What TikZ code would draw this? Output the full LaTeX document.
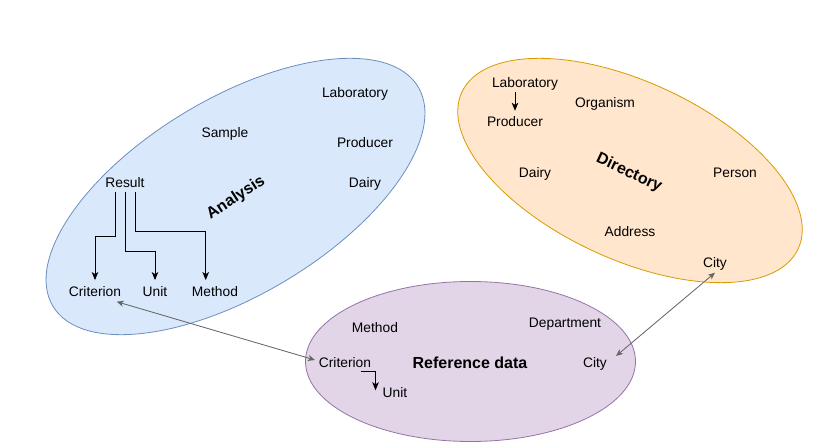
\documentclass[tikz,border=0pt]{standalone}
\usepackage{fontspec}
\setmainfont{Liberation Sans}
\usetikzlibrary{shapes.geometric,arrows.meta}
\definecolor{blueF}{HTML}{DAE8FC}
\definecolor{blueD}{HTML}{6C8EBF}
\definecolor{orF}{HTML}{FFE6CC}
\definecolor{orD}{HTML}{D79B00}
\definecolor{puF}{HTML}{E1D5E7}
\definecolor{puD}{HTML}{9673A6}
\definecolor{gray66}{HTML}{666666}
\begin{document}
\begin{tikzpicture}[x=1pt,y=-1pt,
  lbl/.style={font=\fontsize{13.8}{16}\selectfont, inner sep=0pt, minimum height=18.8pt, text height=11.7pt, text depth=1.1pt},
  ttl/.style={font=\fontsize{16}{19}\selectfont\bfseries, inner sep=0pt},
  area/.style={ellipse, draw, line width=0.8pt, inner sep=0pt},
  dep/.style={-{Stealth[length=8pt,width=6.5pt,inset=2pt]}, line width=1pt, draw=black},
  lnk/.style={{Stealth[length=7pt,width=6pt,inset=2pt]}-{Stealth[length=7pt,width=6pt,inset=2pt]}, line width=0.8pt, draw=gray66, fill=gray66}]
\useasboundingbox (0,0) rectangle (837,443);

% areas
\node[area, fill=blueF, draw=blueD, minimum width=426pt, minimum height=196pt, rotate=31] (anaE) at (235.5,196.5) {};
\node[area, fill=orF, draw=orD, minimum width=371pt, minimum height=177pt, rotate=-25] (dirE) at (630,170.5) {};
\node[area, fill=puF, draw=puD, minimum width=330pt, minimum height=160pt] (refE) at (470.5,361.5) {};

% Analysis
\node[lbl] (aLab) at (355,92.3) {Laboratory};
\node[lbl] (aSam) at (225,132) {Sample};
\node[lbl] (aPro) at (365,142) {Producer};
\node[lbl] (aRes) at (125,182.3) {Result};
\node[lbl] (aDai) at (365,182) {Dairy};
\node[lbl] (aCri) at (95,291.7) {Criterion};
\node[lbl] (aUni) at (155,291.7) {Unit};
\node[lbl] (aMet) at (215,291.7) {Method};
\node[ttl, rotate=33] (aTtl) at (236,198) {Analysis};

% Directory
\node[lbl] (dLab) at (525,82.3) {Laboratory};
\node[lbl] (dPro) at (515,121.7) {Producer};
\node[lbl] (dOrg) at (605,102.3) {Organism};
\node[lbl] (dDai) at (535,172.3) {Dairy};
\node[lbl] (dPer) at (735,172.3) {Person};
\node[lbl] (dAdr) at (630,231.7) {Address};
\node[lbl] (dCit) at (715,262.3) {City};
\node[ttl, rotate=-25] (dTtl) at (629,173) {Directory};

% Reference data
\node[lbl] (rMet) at (375,327.3) {Method};
\node[lbl] (rDep) at (565,322.3) {Department};
\node[lbl] (rCri) at (345,362.3) {Criterion};
\node[lbl] (rUni) at (395,392.3) {Unit};
\node[lbl] (rCit) at (595,362.3) {City};
\node[ttl] (rTtl) at (470,362.5) {Reference data};

% dependencies
\draw[dep] ([xshift=-9.3pt]aRes.south) -- ++(0,44.3) -| ([yshift=2pt]aCri.north);
\draw[dep] ([xshift=0.7pt]aRes.south) -- ++(0,60) -| ([yshift=2pt]aUni.north);
\draw[dep] ([xshift=10.7pt]aRes.south) -- ++(0,40) -| ([xshift=-9.3pt,yshift=2pt]aMet.north);
\draw[dep] (dPro.north |- dLab.south) -- ([yshift=1.3pt]dPro.north);
\draw[dep] ([xshift=15.7pt]rCri.south) -| ([xshift=-7pt,yshift=2pt]rUni.west);

% links
\draw[lnk] ([xshift=21.7pt,yshift=-10pt]aCri.center) -- ([xshift=-30pt,yshift=2.3pt]rCri.center);
\draw[lnk] ([xshift=21pt,yshift=6.3pt]rCit.center) -- ([yshift=-10.4pt]dCit.center);
\end{tikzpicture}
\end{document}
